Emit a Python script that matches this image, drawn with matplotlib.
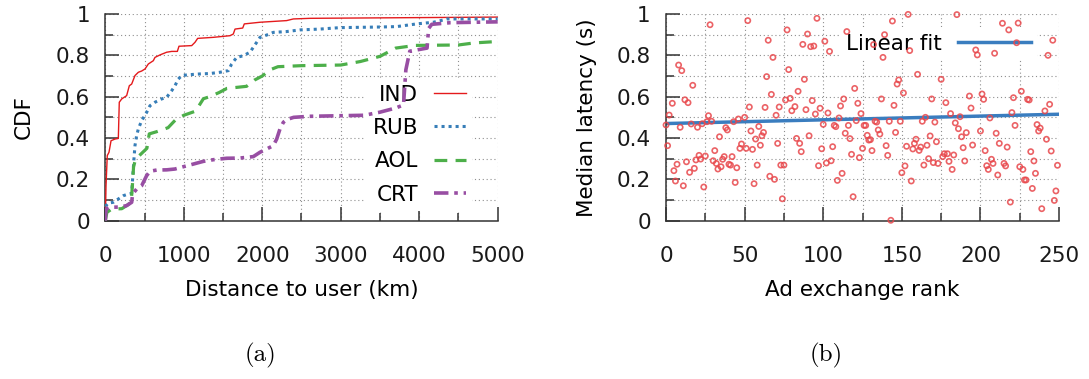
import numpy as np
import matplotlib.pyplot as plt
from matplotlib.ticker import MultipleLocator, FormatStrFormatter

# (a) CDF of distance to user
ind_km = [0, 9, 25, 47, 73, 124, 166, 178, 209, 272, 306, 336, 378, 421, 463, 506, 548, 612, 633, 697,
          782, 846, 918, 939, 1101, 1143, 1177, 1376, 1589, 1631, 1653, 1751, 1771, 1971, 2311, 2396, 2608, 5000]
ind_cdf = [0, 0.169, 0.315, 0.331, 0.387, 0.395, 0.398, 0.573, 0.589, 0.605, 0.653, 0.661, 0.702, 0.718, 0.724,
           0.734, 0.758, 0.774, 0.790, 0.802, 0.815, 0.819, 0.819, 0.844, 0.847, 0.863, 0.882, 0.887, 0.895,
           0.903, 0.927, 0.932, 0.952, 0.960, 0.968, 0.976, 0.979, 0.985]

rub_km = [0, 9, 39, 102, 166, 230, 293, 336, 348, 365, 378, 399, 421, 463, 527, 569, 633, 718, 782, 846,
          888, 930, 973, 1058, 1207, 1334, 1461, 1568, 1610, 1674, 1759, 1844, 1886, 1929, 1971, 2056, 2141,
          2311, 2481, 2736, 2991, 3500, 3713, 3968, 4180, 4307, 4350, 5000]
rub_cdf = [0, 0.073, 0.085, 0.089, 0.105, 0.121, 0.129, 0.132, 0.202, 0.298, 0.363, 0.411, 0.444, 0.484, 0.524,
           0.556, 0.573, 0.589, 0.597, 0.629, 0.653, 0.685, 0.702, 0.706, 0.710, 0.712, 0.718, 0.726, 0.758,
           0.790, 0.798, 0.815, 0.839, 0.863, 0.887, 0.898, 0.911, 0.915, 0.923, 0.927, 0.934, 0.937, 0.939,
           0.952, 0.960, 0.971, 0.976, 0.976]

aol_km = [0, 20, 80, 210, 280, 330, 345, 360, 380, 420, 530, 560, 650, 800, 900, 1000, 1150, 1200, 1250, 1330,
          1450, 1550, 1800, 1900, 2000, 2100, 2200, 2500, 3000, 3250, 3500, 3700, 3950, 4500, 4700, 5000]
aol_cdf = [0, 0.040, 0.056, 0.058, 0.075, 0.090, 0.170, 0.260, 0.290, 0.310, 0.350, 0.420, 0.430, 0.450, 0.490,
           0.510, 0.530, 0.560, 0.590, 0.600, 0.620, 0.640, 0.650, 0.680, 0.700, 0.730, 0.745, 0.750, 0.753,
           0.770, 0.795, 0.835, 0.848, 0.850, 0.860, 0.867]

crt_km = [0, 9, 60, 187, 272, 336, 348, 399, 463, 527, 569, 654, 782, 888, 994, 1122, 1249, 1376, 1546, 1716,
          1886, 1971, 2056, 2141, 2184, 2226, 2269, 2311, 2400, 2600, 3300, 3500, 3700, 3800, 3830, 3880, 4100,
          4120, 4160, 4400, 5000]
crt_cdf = [0, 0.056, 0.065, 0.066, 0.073, 0.089, 0.129, 0.153, 0.169, 0.218, 0.239, 0.245, 0.246, 0.250, 0.261,
           0.274, 0.287, 0.295, 0.302, 0.303, 0.310, 0.331, 0.347, 0.363, 0.395, 0.444, 0.476, 0.489, 0.500,
           0.505, 0.510, 0.525, 0.545, 0.560, 0.730, 0.820, 0.835, 0.930, 0.950, 0.958, 0.962]

# (b) median latency per ad exchange rank
rank = [0, 1, 2, 4, 5, 6, 7, 8, 9, 10, 11, 12, 13, 14, 15, 16, 17, 18, 19, 20,
        21, 22, 23, 24, 25, 26, 27, 28, 29, 30, 31, 32, 33, 34, 35, 36, 37, 38, 39, 40,
        41, 42, 43, 44, 45, 46, 47, 48, 50, 51, 52, 53, 54, 55, 56, 57, 58, 59, 60, 61,
        62, 63, 64, 65, 66, 67, 68, 69, 70, 71, 72, 73, 74, 75, 76, 77, 78, 79, 80, 82,
        83, 84, 85, 86, 87, 88, 89, 90, 91, 92, 93, 94, 95, 96, 97, 98, 99, 100, 101, 102,
        103, 104, 105, 106, 107, 108, 109, 110, 111, 112, 113, 114, 115, 116, 117, 118, 119, 120, 121, 122,
        123, 124, 125, 126, 127, 128, 129, 130, 131, 132, 133, 134, 135, 136, 137, 138, 139, 140, 141, 142,
        143, 144, 145, 146, 147, 148, 149, 150, 151, 152, 153, 154, 155, 156, 157, 158, 159, 160, 161, 162,
        163, 164, 165, 166, 167, 168, 169, 170, 171, 172, 173, 175, 176, 177, 178, 179, 180, 181, 182, 183,
        184, 185, 186, 187, 188, 189, 190, 191, 193, 194, 195, 197, 198, 200, 201, 202, 203, 204, 205, 206,
        207, 208, 209, 210, 211, 212, 214, 215, 216, 217, 218, 219, 220, 221, 222, 223, 224, 225, 226, 227,
        228, 229, 230, 231, 232, 233, 234, 235, 236, 237, 238, 239, 241, 242, 243, 244, 245, 246, 247, 248,
        249]
latency = [0.463, 0.363, 0.511, 0.568, 0.242, 0.192, 0.273, 0.753, 0.452, 0.726, 0.169, 0.585, 0.285, 0.571,
           0.234, 0.468, 0.655, 0.253, 0.294, 0.452, 0.316, 0.298, 0.469, 0.163, 0.313, 0.479, 0.508, 0.948,
           0.481, 0.290, 0.339, 0.277, 0.250, 0.406, 0.261, 0.297, 0.310, 0.450, 0.439, 0.273, 0.269, 0.310,
           0.479, 0.185, 0.256, 0.492, 0.350, 0.371, 0.500, 0.350, 0.968, 0.550, 0.434, 0.345, 0.179, 0.395,
           0.269, 0.456, 0.365, 0.411, 0.427, 0.548, 0.697, 0.873, 0.215, 0.611, 0.790, 0.200, 0.510, 0.374,
           0.550, 0.269, 0.106, 0.269, 0.584, 0.923, 0.731, 0.592, 0.532, 0.552, 0.398, 0.626, 0.374, 0.334,
           0.853, 0.684, 0.537, 0.903, 0.411, 0.842, 0.581, 0.845, 0.516, 0.979, 0.266, 0.544, 0.348, 0.466,
           0.868, 0.279, 0.521, 0.819, 0.290, 0.358, 0.461, 0.455, 0.195, 0.497, 0.555, 0.229, 0.589, 0.423,
           0.915, 0.461, 0.397, 0.321, 0.116, 0.640, 0.484, 0.568, 0.305, 0.518, 0.350, 0.461, 0.461, 0.413,
           0.390, 0.392, 0.339, 0.852, 0.481, 0.477, 0.439, 0.419, 0.589, 0.790, 0.900, 0.363, 0.316, 0.481,
           0.002, 0.966, 0.558, 0.427, 0.661, 0.681, 0.481, 0.232, 0.618, 0.265, 0.360, 0.998, 0.823, 0.192,
           0.347, 0.374, 0.394, 0.708, 0.340, 0.356, 0.481, 0.269, 0.500, 0.365, 0.300, 0.410, 0.589, 0.281,
           0.477, 0.382, 0.277, 0.684, 0.310, 0.324, 0.571, 0.324, 0.287, 0.518, 0.248, 0.318, 0.473, 0.997,
           0.445, 0.503, 0.406, 0.353, 0.289, 0.426, 0.603, 0.545, 0.366, 0.826, 0.802, 0.434, 0.613, 0.587,
           0.339, 0.266, 0.248, 0.497, 0.297, 0.277, 0.810, 0.423, 0.221, 0.374, 0.955, 0.277, 0.265, 0.356,
           0.923, 0.090, 0.523, 0.595, 0.461, 0.861, 0.956, 0.261, 0.626, 0.248, 0.197, 0.197, 0.587, 0.584,
           0.334, 0.156, 0.289, 0.229, 0.465, 0.434, 0.448, 0.058, 0.531, 0.394, 0.800, 0.563, 0.337, 0.873,
           0.098, 0.144, 0.268]
fit_intercept = 0.470
fit_slope = 0.00018

FS = 15.5
plt.rcParams['font.family'] = 'DejaVu Sans'

fig = plt.figure(figsize=(10.89, 3.79), dpi=100)
ax1 = fig.add_axes([0.0967, 0.4177, 0.3603, 0.5454])
ax2 = fig.add_axes([0.6116, 0.4177, 0.3609, 0.5454])


def style(ax):
    for s in ['top', 'right']:
        ax.spines[s].set_visible(False)
    for s in ['left', 'bottom']:
        ax.spines[s].set_color('#333333')
        ax.spines[s].set_linewidth(1.1)
    ax.tick_params(which='both', direction='in', color='#333333', width=1.1,
                   labelsize=FS, labelcolor='#1a1a1a')
    ax.tick_params(which='major', length=10)
    ax.tick_params(which='minor', length=5.5)
    ax.tick_params(axis='x', pad=18)
    ax.tick_params(axis='y', pad=11)
    ax.grid(True, which='both', linestyle=(0, (1, 2.5)), color='#8f8f8f', linewidth=0.8)
    ax.set_axisbelow(True)
    ax.set_ylim(0, 1)
    ax.yaxis.set_major_locator(MultipleLocator(0.2))
    ax.yaxis.set_minor_locator(MultipleLocator(0.1))
    ax.yaxis.set_major_formatter(FormatStrFormatter('%g'))


def white_legend(leg):
    # white box hides the grid, the data is still drawn over it
    leg.get_frame().set_facecolor('white')
    leg.get_frame().set_edgecolor('none')
    leg.get_frame().set_alpha(1)
    leg.set_zorder(1.5)


# ---- (a) CDF ----
style(ax1)
ax1.set_xlim(0, 5000)
ax1.xaxis.set_major_locator(MultipleLocator(1000))
ax1.xaxis.set_minor_locator(MultipleLocator(500))
ax1.plot(ind_km, ind_cdf, color='#e41a1c', lw=1.0, label='IND', zorder=3)
ax1.plot(rub_km, rub_cdf, color='#377eb8', lw=2.2, linestyle=(0, (1, 1.3)), label='RUB', zorder=3)
ax1.plot(aol_km, aol_cdf, color='#4daf4a', lw=2.3, linestyle=(0, (4, 2.6)), label='AOL', zorder=3)
ax1.plot(crt_km, crt_cdf, color='#984ea3', lw=2.6, linestyle=(0, (4, 1.6, 1, 1.6)), label='CRT', zorder=3)
ax1.set_xlabel('Distance to user (km)', fontsize=FS, labelpad=10)
ax1.set_ylabel('CDF', fontsize=FS, labelpad=16)
leg1 = ax1.legend(loc='upper right', bbox_to_anchor=(0.935, 0.69), markerfirst=False, frameon=True,
                  fontsize=FS, handlelength=1.45, handletextpad=0.75, labelspacing=0.62,
                  borderaxespad=0, borderpad=0.3, fancybox=False)
white_legend(leg1)

# ---- (b) latency vs rank ----
style(ax2)
ax2.set_xlim(0, 250)
ax2.xaxis.set_major_locator(MultipleLocator(50))
ax2.xaxis.set_minor_locator(MultipleLocator(25))
ax2.scatter(rank, latency, s=14, facecolors='none', edgecolors='#e8474b', linewidths=1.2, alpha=0.85,
            zorder=3, clip_on=False)
fit_x = np.array([0, 250])
ax2.plot(fit_x, fit_intercept + fit_slope * fit_x, color='#3a7dbf', lw=2.5, label='Linear fit', zorder=2.5)
ax2.set_xlabel('Ad exchange rank', fontsize=FS, labelpad=10)
ax2.set_ylabel('Median latency (s)', fontsize=FS, labelpad=14)
leg2 = ax2.legend(loc='upper right', bbox_to_anchor=(0.945, 0.935), markerfirst=False, frameon=True,
                  fontsize=FS, handlelength=3.4, handletextpad=0.75, borderaxespad=0, borderpad=0.3,
                  fancybox=False)
white_legend(leg2)

# captions
fig.text(0.2395, 0.062, '(a)', family='cmr10', fontsize=18, ha='center', va='center')
fig.text(0.7585, 0.062, '(b)', family='cmr10', fontsize=18, ha='center', va='center')

fig.savefig('out.png', dpi=100)
